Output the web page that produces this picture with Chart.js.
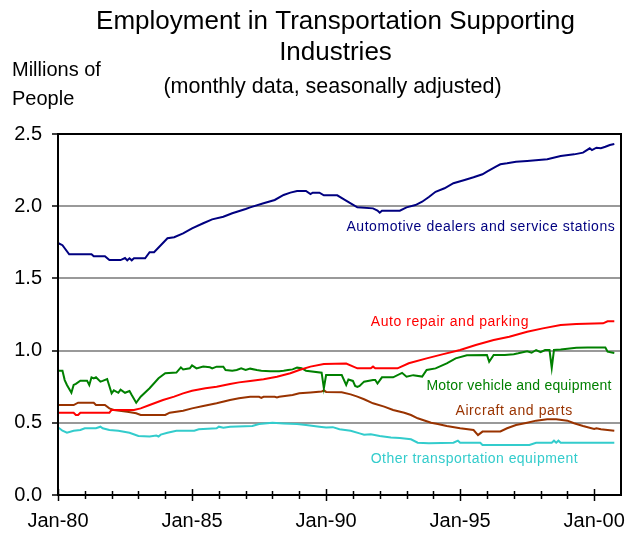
<!DOCTYPE html>
<html>
<head>
<meta charset="utf-8">
<script src="https://cdn.jsdelivr.net/npm/chart.js@4/dist/chart.umd.min.js"></script>
<style>
  html, body { margin: 0; padding: 0; background: #ffffff; }
  #c { display: block; }
</style>
</head>
<body>
<canvas id="c" width="629" height="537"></canvas>
<script>
// Month index counted from Jan-1980 (0 = Jan-80, 12 = Jan-81, ...)
const tickLabels = ['Jan-80', 'Jan-85', 'Jan-90', 'Jan-95', 'Jan-00'];
const seriesNames = [
  'Automotive dealers and service stations',
  'Auto repair and parking',
  'Motor vehicle and equipment',
  'Aircraft and parts',
  'Other transportation equipment'
];
const titleLines = ['Employment in Transportation Supporting', 'Industries'];
const subtitleText = '(monthly data, seasonally adjusted)';
const unitLines = ['Millions of', 'People'];

// Employment, millions of people
const dealersMonth = [0,2,5,15,16,21,23,28,30,31,32,33,34,39,41,43,49,52,56,60,65,69,74,78,84,86,92,97,101,104,107,111,113,114,117,119,125,128,131,134,141,143,144,145,153,156,160,163,166,169,173,177,182,186,190,192,196,198,201,205,210,219,225,231,235,238,239,241,243,245,247,249];
const dealersValue = [1.745,1.73,1.667,1.667,1.653,1.653,1.627,1.627,1.641,1.625,1.639,1.625,1.639,1.639,1.681,1.681,1.778,1.785,1.812,1.847,1.882,1.909,1.927,1.951,1.981,1.992,2.020,2.043,2.078,2.094,2.105,2.105,2.084,2.094,2.094,2.075,2.075,2.047,2.020,1.992,1.985,1.970,1.955,1.969,1.969,1.992,2.008,2.031,2.064,2.100,2.124,2.159,2.181,2.200,2.221,2.239,2.274,2.290,2.297,2.308,2.313,2.325,2.348,2.359,2.371,2.401,2.389,2.405,2.401,2.412,2.424,2.431];

const repairMonth = [0,7,8,9,10,23,24,34,37,41,47,52,56,60,66,71,77,81,86,92,98,104,108,113,119,129,134,140,141,142,152,157,165,172,180,187,195,202,210,217,225,232,244,246,249];
const repairValue = [0.570,0.570,0.554,0.554,0.570,0.570,0.589,0.589,0.600,0.623,0.658,0.681,0.704,0.722,0.739,0.750,0.769,0.780,0.790,0.801,0.819,0.843,0.866,0.889,0.907,0.910,0.877,0.877,0.889,0.877,0.877,0.912,0.946,0.974,1.004,1.039,1.073,1.096,1.131,1.154,1.177,1.184,1.189,1.203,1.203];

const motorMonth = [0,2,3,4,6,7,8,10,13,14,15,16,17,19,20,22,24,25,27,28,30,32,33,35,37,41,45,48,53,55,56,59,60,62,65,68,69,71,74,75,78,80,82,84,86,89,91,95,99,101,103,105,107,109,111,118,119,120,127,129,130,132,133,134,135,137,141,142,143,145,150,154,156,159,163,165,169,174,178,183,192,193,195,200,204,206,210,212,214,216,218,220,221,222,225,232,237,245,246,249];
const motorValue = [0.861,0.861,0.796,0.762,0.708,0.762,0.770,0.792,0.792,0.762,0.815,0.808,0.815,0.785,0.790,0.803,0.704,0.725,0.708,0.730,0.708,0.720,0.692,0.639,0.681,0.739,0.808,0.843,0.848,0.884,0.870,0.877,0.898,0.877,0.889,0.884,0.877,0.889,0.889,0.866,0.861,0.866,0.877,0.866,0.875,0.866,0.861,0.857,0.857,0.861,0.866,0.870,0.882,0.878,0.861,0.847,0.739,0.831,0.831,0.762,0.800,0.790,0.755,0.748,0.755,0.785,0.796,0.796,0.772,0.815,0.815,0.846,0.819,0.830,0.820,0.866,0.877,0.912,0.946,0.967,0.970,0.923,0.970,0.970,0.975,0.981,0.995,0.985,1.004,0.990,1.004,1.004,0.880,1.004,1.008,1.020,1.022,1.022,0.993,0.984];

const aircraftMonth = [0,7,9,16,17,21,23,25,31,35,37,48,50,56,60,65,71,77,81,86,90,91,92,97,98,99,105,108,113,118,119,120,127,131,134,137,141,146,150,155,158,161,164,167,170,174,180,186,188,190,198,201,205,210,214,219,223,228,231,235,240,241,243,249];
const aircraftValue = [0.623,0.623,0.639,0.639,0.623,0.623,0.600,0.589,0.577,0.566,0.554,0.554,0.570,0.584,0.600,0.616,0.635,0.658,0.670,0.680,0.680,0.672,0.680,0.680,0.675,0.680,0.692,0.704,0.710,0.716,0.725,0.714,0.712,0.697,0.681,0.663,0.635,0.612,0.589,0.570,0.554,0.531,0.516,0.500,0.492,0.478,0.462,0.450,0.415,0.439,0.440,0.462,0.485,0.501,0.515,0.524,0.524,0.515,0.497,0.478,0.457,0.462,0.455,0.445];

const otherMonth = [0,2,4,7,10,12,17,19,20,23,27,32,36,41,44,45,46,49,53,61,63,71,72,74,77,87,90,96,101,107,111,117,120,123,126,131,135,137,140,144,149,153,158,161,166,177,179,180,189,190,211,214,221,222,223,224,225,249];
const otherValue = [0.469,0.445,0.431,0.445,0.450,0.462,0.462,0.473,0.462,0.450,0.445,0.431,0.409,0.405,0.412,0.405,0.418,0.431,0.445,0.445,0.455,0.462,0.473,0.466,0.473,0.478,0.492,0.501,0.496,0.492,0.485,0.473,0.468,0.470,0.455,0.445,0.427,0.418,0.420,0.409,0.399,0.395,0.386,0.362,0.358,0.362,0.376,0.362,0.362,0.346,0.346,0.362,0.362,0.376,0.362,0.376,0.362,0.362];

const FONT = "'Liberation Sans', Arial, sans-serif";

function points(months, values) {
  return months.map((m, i) => ({ x: m, y: values[i] }));
}

// Line colours, name spacing and where each series name sits (month, value of its left-middle point)
const seriesStyle = [
  { color: '#000080', spacing: 0.55, at: [129.1, 1.857] },
  { color: '#ff0000', spacing: 0.55, at: [140.0, 1.198] },
  { color: '#008000', spacing: 0.2,  at: [164.9, 0.752] },
  { color: '#993300', spacing: 0.6,  at: [177.9, 0.580] },
  { color: '#33cccc', spacing: 0.45, at: [140.0, 0.245] }
];

const seriesData = [
  points(dealersMonth, dealersValue),
  points(repairMonth, repairValue),
  points(motorMonth, motorValue),
  points(aircraftMonth, aircraftValue),
  points(otherMonth, otherValue)
];

const datasets = seriesData.map((d, i) => ({
  label: seriesNames[i],
  data: d,
  borderColor: seriesStyle[i].color,
  backgroundColor: seriesStyle[i].color,
  borderWidth: 2,
  pointRadius: 0,
  tension: 0,
  fill: false
}));

// Frame, crossing x tick marks, in-plot series names, headings and the unit caption
const decor = {
  id: 'decor',
  afterDatasetsDraw(chart) {
    const { ctx, chartArea: a, scales: { x, y } } = chart;
    const hasSpacing = 'letterSpacing' in ctx;
    ctx.save();
    ctx.strokeStyle = '#000000';
    ctx.lineWidth = 2;
    ctx.strokeRect(a.left, a.top, a.right - a.left, a.bottom - a.top);

    ctx.lineWidth = 1.5;
    x.ticks.forEach(t => {
      if (t.value >= x.max) return;
      const px = Math.round(x.getPixelForValue(t.value)) + 0.5;
      const h = t.value % 60 === 0 ? 6 : 4;
      ctx.beginPath();
      ctx.moveTo(px, a.bottom - h);
      ctx.lineTo(px, a.bottom + h);
      ctx.stroke();
    });

    ctx.font = '14px ' + FONT;
    ctx.textAlign = 'left';
    ctx.textBaseline = 'middle';
    seriesStyle.forEach((s, i) => {
      if (hasSpacing) ctx.letterSpacing = s.spacing + 'px';
      ctx.fillStyle = s.color;
      ctx.fillText(seriesNames[i], x.getPixelForValue(s.at[0]), y.getPixelForValue(s.at[1]));
    });
    if (hasSpacing) ctx.letterSpacing = '0px';

    ctx.fillStyle = '#000000';
    ctx.font = '20px ' + FONT;
    ctx.fillText(unitLines[0], 12, 70);
    ctx.fillText(unitLines[1], 12, 99);

    // headings, centred over the plot area
    const cx = (a.left + a.right) / 2 - 4;
    ctx.textAlign = 'center';
    ctx.font = '26px ' + FONT;
    ctx.fillText(titleLines[0], cx, 22);
    ctx.fillText(titleLines[1], cx, 53);
    ctx.font = '21.5px ' + FONT;
    ctx.fillText(subtitleText, cx - 3, 87);
    ctx.restore();
  }
};

new Chart(document.getElementById('c'), {
  type: 'line',
  data: { datasets },
  plugins: [decor],
  options: {
    responsive: false,
    animation: false,
    events: [],
    layout: { padding: { left: 0, right: 8, top: 134, bottom: 0 } },
    plugins: {
      legend: { display: false },
      tooltip: { enabled: false },
      title: { display: false },
      subtitle: { display: false }
    },
    scales: {
      x: {
        type: 'linear',
        min: 0,
        max: 252,
        border: { display: false },
        afterFit: s => { s.height = 42; },
        grid: {
          display: true,
          drawOnChartArea: false,
          drawTicks: true,
          tickLength: 6,
          tickColor: 'rgba(0,0,0,0)'
        },
        ticks: {
          stepSize: 12,
          autoSkip: false,
          maxRotation: 0,
          padding: 8,
          color: '#000000',
          font: { family: FONT, size: 20 },
          callback: v => (v % 60 === 0 && v / 60 < tickLabels.length) ? tickLabels[v / 60] : ''
        }
      },
      y: {
        min: 0,
        max: 2.5,
        border: { display: false },
        afterFit: s => { s.width = 58; },
        grid: {
          color: c => (c.tick && (c.tick.value <= 0 || c.tick.value >= 2.5)) ? 'rgba(0,0,0,0)' : '#999999',
          lineWidth: 2,
          tickColor: '#000000',
          tickLength: 6,
          tickWidth: 1.5
        },
        ticks: {
          stepSize: 0.5,
          padding: 10,
          color: '#000000',
          font: { family: FONT, size: 20 },
          callback: v => Number(v).toFixed(1)
        }
      }
    }
  }
});
</script>
</body>
</html>
